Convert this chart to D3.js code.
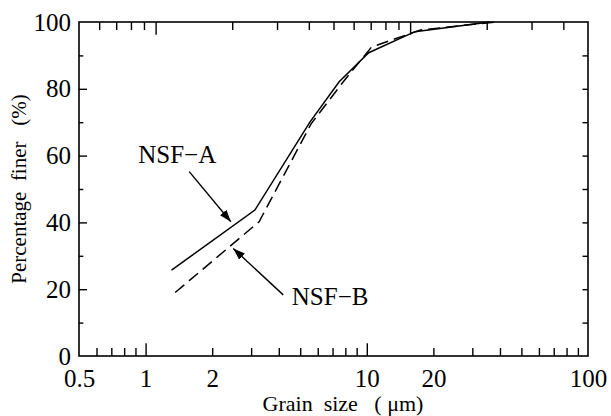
<!DOCTYPE html>
<html>
<head>
<meta charset="utf-8">
<script src="https://cdn.jsdelivr.net/npm/d3@7"></script>
<style>
  html, body { margin: 0; padding: 0; background: #fff; }
  svg { display: block; font-family: "Liberation Serif", "Times New Roman", serif; }
  text { fill: #000; }
</style>
</head>
<body>
<svg width="611" height="416"></svg>
<script>
(function () {
    'use strict';

    // grain size (um) / percentage finer (%)
    const grainA = [1.31, 3.12, 5.54, 7.5, 10.2, 16.5, 36];
    const finerA = [25.7, 43.7, 70.1, 82.1, 90.8, 97.1, 100];
    const grainB = [1.36, 3.26, 5.6, 7.7, 10.5, 17.5, 38];
    const finerB = [19, 40.2, 69.5, 81.5, 92.5, 97.6, 100];

    const xTickLabels = [0.5, 1, 2, 10, 20, 100];
    const xTicks = [0.6, 0.7, 0.8, 0.9, 1, 2, 3, 4, 5, 6, 7, 8, 9, 10, 20, 30, 40, 50, 60, 70, 80, 90];
    const xTopTicks = [0.6, 0.7, 0.8, 0.9, 1, 2, 3, 4, 5, 6, 7, 8, 9, 10, 20, 30, 40];
    const xMajor = [1, 10];
    const yTickLabels = [0, 20, 40, 60, 80, 100];
    const yTicks = [10, 20, 30, 40, 50, 60, 70, 80, 90];

    // annotations in data units: label anchor, arrow start, arrow tip
    const seriesNames = ['NSF\u2212A', 'NSF\u2212B'];
    const labelAt = [[0.926, 57.7], [4.58, 15.3]];
    const arrowFrom = [[1.575, 55.2], [4.19, 18.3]];
    const arrowTo = [[2.43, 40.2], [2.49, 32.2]];

    const width = 611;
    const height = 416;
    const margin = ({ top: 22, right: 23, bottom: 60, left: 79 });

    const x = d3.scaleLog()
        .domain([0.5, 100])
        .range([margin.left, width - margin.right]);

    // the top frame axis of the original runs 0.5 .. 50
    const xTop = d3.scaleLog()
        .domain([0.5, 50])
        .range([margin.left, width - margin.right]);

    const y = d3.scaleLinear()
        .domain([0, 100])
        .range([height - margin.bottom, margin.top]);

    const svg = d3.select('svg')
        .attr('viewBox', [0, 0, width, height]);

    const axes = svg.append('g').classed('axes', true)
        .attr('font-size', 25)
        .attr('font-family', '"Liberation Serif", "Times New Roman", serif');

    const clean = g => {
        g.attr('font-size', null).attr('font-family', null);
        g.select('.domain').remove();
        g.selectAll('line').attr('stroke', '#000').attr('stroke-width', 1.4);
        g.selectAll('text').attr('fill', '#000');
    };

    // bottom
    axes.append('g')
        .attr('transform', `translate(0,${y(0)})`)
        .call(d3.axisBottom(x)
            .tickValues(xTicks.concat([0.5, 100]))
            .tickFormat(d => xTickLabels.includes(d) ? String(d) : '')
            .tickSizeInner(-8).tickSizeOuter(0).tickPadding(13))
        .call(clean)
        .call(g => g.selectAll('.tick line')
            .attr('y2', d => (d === 0.5 || d === 100) ? 0 : (xMajor.includes(d) ? -12.7 : -8)));

    // top
    axes.append('g')
        .attr('transform', `translate(0,${y(100)})`)
        .call(d3.axisTop(xTop)
            .tickValues(xTopTicks)
            .tickFormat('')
            .tickSizeInner(-8).tickSizeOuter(0))
        .call(clean)
        .call(g => g.selectAll('.tick line')
            .attr('y2', d => xMajor.includes(d) ? 12.7 : 8));

    // left
    axes.append('g')
        .attr('transform', `translate(${x(0.5)},0)`)
        .call(d3.axisLeft(y)
            .tickValues(yTicks.concat([0, 100]))
            .tickFormat(d => yTickLabels.includes(d) ? String(d) : '')
            .tickSizeInner(-8).tickSizeOuter(0).tickPadding(8))
        .call(clean)
        .call(g => g.selectAll('.tick line')
            .attr('x2', d => (d === 0 || d === 100) ? 0 : (d % 20 === 0 ? 8 : 4.3)));

    // right
    axes.append('g')
        .attr('transform', `translate(${x(100)},0)`)
        .call(d3.axisRight(y)
            .tickValues(yTicks)
            .tickFormat('')
            .tickSizeInner(-5.5).tickSizeOuter(0))
        .call(clean);

    // frame
    axes.append('rect')
        .attr('x', x(0.5))
        .attr('y', y(100))
        .attr('width', x(100) - x(0.5))
        .attr('height', y(0) - y(100))
        .attr('fill', 'none')
        .attr('stroke', '#000')
        .attr('stroke-width', 1.6);

    // axis titles
    svg.append('text')
        .attr('x', 343)
        .attr('y', 411)
        .attr('text-anchor', 'middle')
        .attr('font-size', 22)
        .style('white-space', 'pre')
        .text('Grain  size   ( \u03bcm)');

    svg.append('text')
        .attr('transform', `translate(26,${(y(0) + y(100)) / 2}) rotate(-90)`)
        .attr('text-anchor', 'middle')
        .attr('font-size', 21)
        .style('white-space', 'pre')
        .text('Percentage  finer   (%)');

    // curves
    const line = d3.line()
        .x(d => x(d[0]))
        .y(d => y(d[1]));

    const plots = svg.append('g').classed('plots', true)
        .attr('fill', 'none')
        .attr('stroke', '#000')
        .attr('stroke-width', 1.5);

    plots.append('path')
        .attr('d', line(d3.zip(grainA, finerA)));

    plots.append('path')
        .attr('stroke-dasharray', '12,6')
        .attr('d', line(d3.zip(grainB, finerB)));

    // arrowhead
    svg.append('defs').append('marker')
        .attr('id', 'head')
        .attr('markerUnits', 'userSpaceOnUse')
        .attr('viewBox', '0 -5 12 10')
        .attr('refX', 12)
        .attr('refY', 0)
        .attr('markerWidth', 12)
        .attr('markerHeight', 10)
        .attr('orient', 'auto')
        .append('path')
        .attr('d', 'M0,-4.2L12,0L0,4.2Z')
        .attr('fill', '#000');

    const notes = svg.append('g').classed('notes', true);

    seriesNames.forEach((name, i) => {
        notes.append('text')
            .attr('x', x(labelAt[i][0]))
            .attr('y', y(labelAt[i][1]))
            .attr('font-size', 25)
            .text(name);

        notes.append('line')
            .attr('x1', x(arrowFrom[i][0]))
            .attr('y1', y(arrowFrom[i][1]))
            .attr('x2', x(arrowTo[i][0]))
            .attr('y2', y(arrowTo[i][1]))
            .attr('stroke', '#000')
            .attr('stroke-width', 1.4)
            .attr('marker-end', 'url(#head)');
    });
})();
</script>
</body>
</html>
